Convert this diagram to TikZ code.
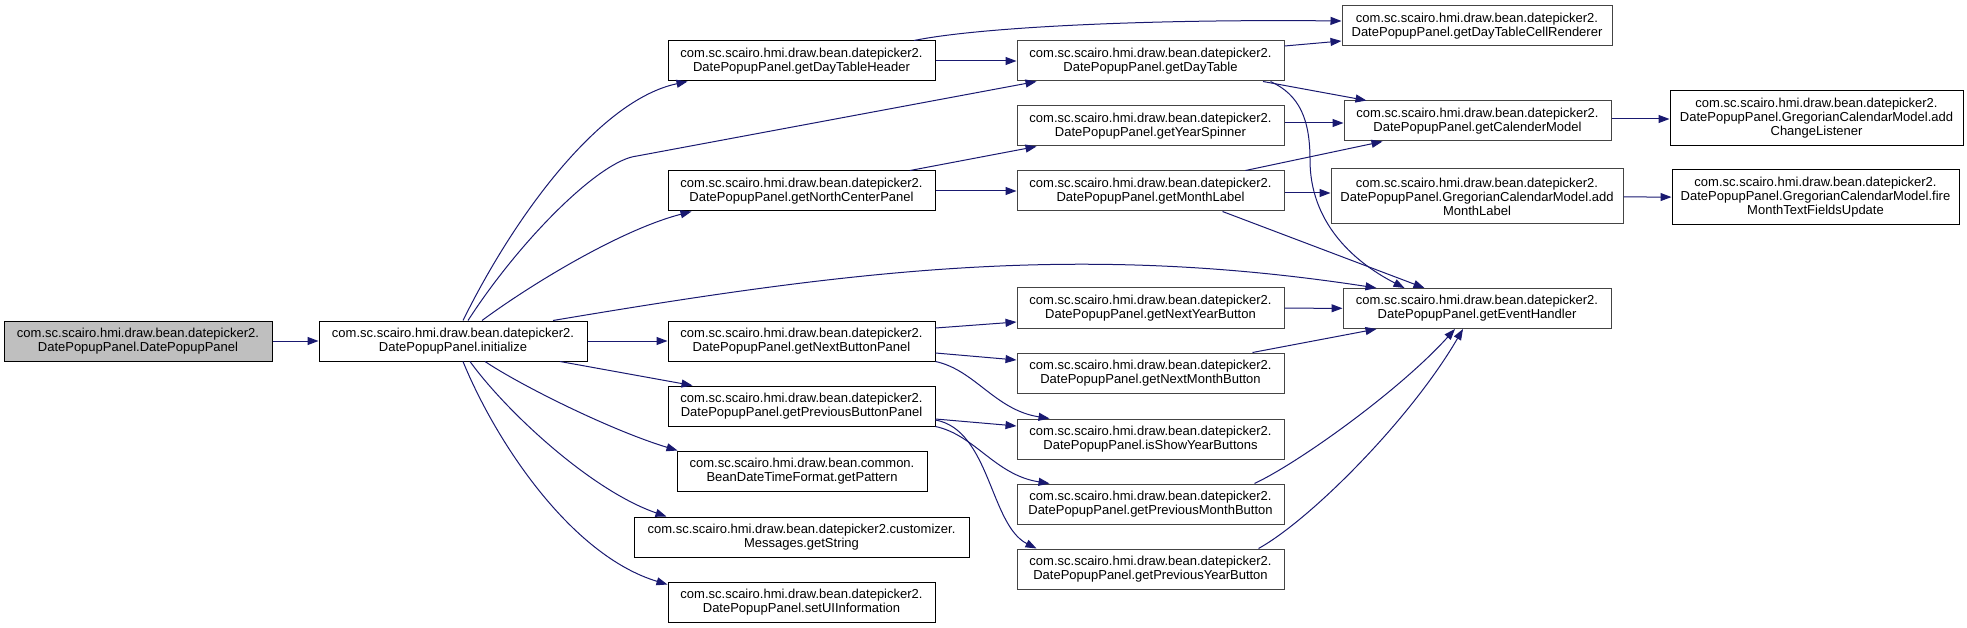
\documentclass[tikz,border=0pt]{standalone}
\usepackage{fontspec}
\setmainfont{Liberation Sans}
\usetikzlibrary{arrows.meta}

\definecolor{edgeblue}{RGB}{25,25,112}
\definecolor{rootgray}{RGB}{191,191,191}
\definecolor{framegray}{RGB}{68,68,68}
\newcommand{\dpk}{com.sc.scairo.hmi.draw.bean.datepicker2.}

\tikzset{
  fn/.style={draw=black, line width=1pt, fill=white, rectangle, inner sep=0pt,
    minimum width=267pt, minimum height=40pt, align=center,
    font=\fontsize{13}{14}\selectfont},
  fngray/.style={fn, draw=framegray},
  fntall/.style={minimum height=55pt},
  call/.style={draw=edgeblue, line width=1pt, -{Triangle[length=11pt,width=8pt]}},
}

\begin{document}
\begin{tikzpicture}[x=1pt, y=-1pt]
    \useasboundingbox (0,0) rectangle (1967,628);

    \node[fn, fill=rootgray, minimum width=268pt] (ctor) at (138,341) {\dpk\\DatePopupPanel.DatePopupPanel};
    \node[fn, minimum width=268pt] (init) at (453,341) {\dpk\\DatePopupPanel.initialize};

    \node[fn] (header) at (801.5,61) {\dpk\\DatePopupPanel.getDayTableHeader};
    \node[fn] (north) at (801.5,191) {\dpk\\DatePopupPanel.getNorthCenterPanel};
    \node[fn] (nextpanel) at (801.5,341) {\dpk\\DatePopupPanel.getNextButtonPanel};
    \node[fn] (prevpanel) at (801.5,406) {\dpk\\DatePopupPanel.getPreviousButtonPanel};
    \node[fn, minimum width=250pt] (pattern) at (802,471) {com.sc.scairo.hmi.draw.bean.common.\\BeanDateTimeFormat.getPattern};
    \node[fn, minimum width=335pt] (getstring) at (801.5,537) {com.sc.scairo.hmi.draw.bean.datepicker2.customizer.\\Messages.getString};
    \node[fn] (setui) at (801.5,602) {\dpk\\DatePopupPanel.setUIInformation};

    \node[fngray] (daytable) at (1150.5,61) {\dpk\\DatePopupPanel.getDayTable};
    \node[fngray] (spinner) at (1150.5,126) {\dpk\\DatePopupPanel.getYearSpinner};
    \node[fngray] (monthlabel) at (1150.5,191) {\dpk\\DatePopupPanel.getMonthLabel};
    \node[fngray] (nextyear) at (1150.5,308) {\dpk\\DatePopupPanel.getNextYearButton};
    \node[fngray] (nextmonth) at (1150.5,373) {\dpk\\DatePopupPanel.getNextMonthButton};
    \node[fngray] (showyear) at (1150.5,439) {\dpk\\DatePopupPanel.isShowYearButtons};
    \node[fngray] (prevmonth) at (1150.5,504) {\dpk\\DatePopupPanel.getPreviousMonthButton};
    \node[fngray] (prevyear) at (1150.5,569) {\dpk\\DatePopupPanel.getPreviousYearButton};

    \node[fngray, minimum width=270pt] (renderer) at (1477,26) {\dpk\\DatePopupPanel.getDayTableCellRenderer};
    \node[fngray] (calmodel) at (1477.5,121) {\dpk\\DatePopupPanel.getCalenderModel};
    \node[fngray, fntall, minimum width=292pt] (addmonth) at (1477,196.5) {\dpk\\DatePopupPanel.GregorianCalendarModel.add\\MonthLabel};
    \node[fngray, minimum width=268pt] (handler) at (1477,308.5) {\dpk\\DatePopupPanel.getEventHandler};

    \node[fn, fntall, minimum width=293pt] (listener) at (1816.5,118) {\dpk\\DatePopupPanel.GregorianCalendarModel.add\\ChangeListener};
    \node[fn, fntall, minimum width=287pt] (fire) at (1815.5,197.5) {\dpk\\DatePopupPanel.GregorianCalendarModel.fire\\MonthTextFieldsUpdate};

    \draw[call] (ctor) -- (init);
    \draw[call] ([xshift=10pt]init.north) .. controls (515,215) and (600,100) .. ([xshift=20pt]header.south west);
    \draw[call] ([xshift=15pt]init.north) .. controls (520,240) and (600,160) .. (637,156) -- ([xshift=20pt]daytable.south west);
    \draw[call] ([xshift=29pt]init.north) .. controls (530,285) and (620,230) .. ([xshift=24pt]north.south west);
    \draw[call] ([xshift=100pt]init.north) .. controls (853,270) and (1077,242) .. ([xshift=34pt]handler.north west);
    \draw[call] (init) -- (nextpanel);
    \draw[call] ([xshift=107pt]init.south) -- ([xshift=25pt]prevpanel.north west);
    \draw[call] ([xshift=32pt]init.south) .. controls (520,385) and (610,430) .. ([xshift=1pt]pattern.north west);
    \draw[call] ([xshift=17pt]init.south) .. controls (505,410) and (590,490) .. ([xshift=33pt]getstring.north west);
    \draw[call] ([xshift=10pt]init.south) .. controls (495,440) and (570,555) .. ([yshift=-3pt]setui.north west);

    \draw[call] (header) -- (daytable);
    \draw[call] ([xshift=112.5pt]header.north) .. controls (980,27) and (1150,19) .. ([yshift=5pt]renderer.west);
    \draw[call] ([yshift=15pt]daytable.east) -- ([yshift=-15pt]renderer.west);
    \draw[call] ([xshift=112.5pt]daytable.south) -- ([xshift=23pt]calmodel.north west);
    \draw[call] ([xshift=120pt]daytable.south) .. controls (1300,95) and (1310,120) .. (1310,160)
        .. controls (1310,220) and (1350,260) .. ([xshift=62pt]handler.north west);

    \draw[call] ([xshift=108.5pt]north.north) -- ([xshift=20pt]spinner.south west);
    \draw[call] (north) -- (monthlabel);
    \draw[call] ([yshift=3pt]spinner.east) -- ([yshift=-2pt]calmodel.west);
    \draw[call] ([xshift=95pt]monthlabel.north) -- ([xshift=39pt]calmodel.south west);
    \draw[call] ([yshift=-2pt]monthlabel.east) -- ([yshift=3.5pt]addmonth.west);
    \draw[call] ([xshift=72pt]monthlabel.south) -- ([xshift=82pt]handler.north west);
    \draw[call] ([yshift=2pt]calmodel.east) -- ([yshift=-1pt]listener.west);
    \draw[call] (addmonth) -- (fire);

    \draw[call] ([yshift=13pt]nextpanel.east) -- ([yshift=-14pt]nextyear.west);
    \draw[call] ([yshift=-12pt]nextpanel.east) -- ([yshift=13pt]nextmonth.west);
    \draw[call] (nextpanel.south east) .. controls (975,370) and (995,410) .. ([xshift=33pt]showyear.north west);
    \draw[call] ([yshift=-13pt]prevpanel.east) -- ([yshift=13pt]showyear.west);
    \draw[call] (prevpanel.south east) .. controls (975,435) and (995,475) .. ([xshift=33pt]prevmonth.north west);
    \draw[call] ([yshift=-14pt]prevpanel.east) .. controls (990,430) and (990,525) .. ([xshift=20pt]prevyear.north west);

    \draw[call] (nextyear) -- (handler);
    \draw[call] ([xshift=102pt]nextmonth.north) -- ([xshift=34pt]handler.south west);
    \draw[call] ([xshift=104pt]prevmonth.north) .. controls (1300,462) and (1400,390) .. ([xshift=-22pt]handler.south);
    \draw[call] ([xshift=108pt]prevyear.north) .. controls (1310,520) and (1410,420) .. ([xshift=-14pt]handler.south);
\end{tikzpicture}
\end{document}
